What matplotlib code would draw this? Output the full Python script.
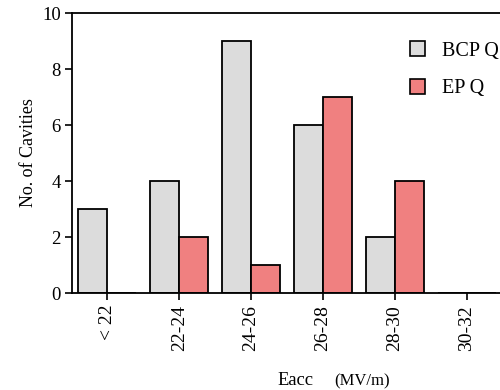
import numpy as np
import matplotlib
matplotlib.use("Agg")
from matplotlib import pyplot as plt
from matplotlib.patches import Patch

plt.rcParams['font.family'] = ['Liberation Serif', 'DejaVu Serif']

# data
categories = ["< 22", "22-24", "24-26", "26-28", "28-30", "30-32"]
bcp_q = [3, 4, 9, 6, 2, 0]
ep_q = [0, 2, 1, 7, 4, 0]

gray = "#dcdcdc"
red = "#f08080"

fig = plt.figure(figsize=(5.0, 3.9), dpi=100)
ax = fig.add_axes([72 / 500, 1 - 293 / 390, 1 - 72 / 500, (293 - 13) / 390])

x = np.arange(len(categories))
w = 0.4
ax.bar(x - w / 2, bcp_q, w, color=gray, edgecolor="black", linewidth=1.3, label="BCP Q")
ax.bar(x + w / 2, ep_q, w, color=red, edgecolor="black", linewidth=1.3, label="EP Q")

ax.set_xlim(-0.49, 5.46)
ax.set_ylim(0, 10)
ax.set_yticks([0, 2, 4, 6, 8, 10])
ax.set_xticks(x)
ax.set_xticklabels(categories, rotation=90, fontsize=14)
ax.tick_params(axis="y", labelsize=13.5, length=5, width=1.2, pad=3)
ax.tick_params(axis="x", length=5, width=1.2)
for s in ["left", "bottom", "top"]:
    ax.spines[s].set_linewidth(1.3)
ax.spines["right"].set_visible(False)

ax.set_ylabel("No. of Cavities", fontsize=13, labelpad=4)

handles = [Patch(facecolor=gray, edgecolor="black", linewidth=1.2),
           Patch(facecolor=red, edgecolor="black", linewidth=1.2)]
ax.legend(handles, ["BCP Q", "EP Q"], loc="upper left", bbox_to_anchor=(0.761, 0.942),
          frameon=False, fontsize=14.5, handlelength=0.75, handleheight=0.75,
          handletextpad=0.85, labelspacing=0.9, borderaxespad=0.2)

fig.text(277 / 500, 1 - 385 / 390, "Eacc", fontsize=13.3, va="baseline")
fig.text(334 / 500, 1 - 385 / 390, "(MV/m)", fontsize=12, va="baseline")

fig.savefig("out.png", dpi=100)
